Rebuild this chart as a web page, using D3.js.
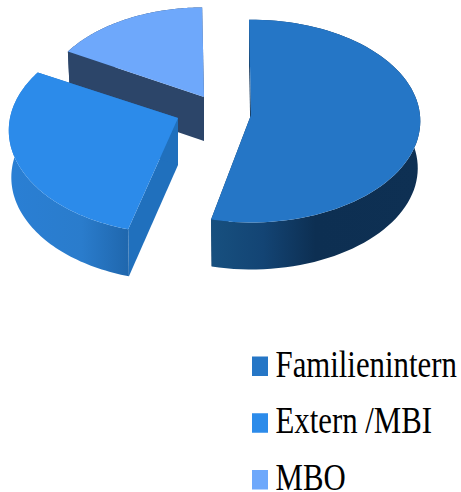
<!DOCTYPE html>
<html>
<head>
<meta charset="utf-8">
<script src="https://cdn.jsdelivr.net/npm/d3@7"></script>
<style>
  html, body { margin: 0; padding: 0; background: #fff; }
  svg { display: block; }
</style>
</head>
<body>
<div id="chart"></div>
<script>
const categories = ["Familienintern", "Extern /MBI", "MBO"];
const shares = [54, 29, 17];

const width = 461, height = 492;
const topColors = ["#2576c6", "#2c8bea", "#6ea8fb"];
const cutColors = ["#0f3358", "#2070bd", "#2c4569"];
// exploded slice centres, radii and extrusion depth per slice
const centers = [[251, 115], [178, 118], [204, 97]];
const radiusX = [169, 168, 161], radiusY = [101, 102, 95];
const depth = [47, 47, 44];
const persp = [0.06, 0.12, 0.06];
// small angle corrections (start, end), the original's 3d projection is not a clean ellipse
const nudge = [[0, -0.015], [0.026, 0], [0.024, 0]];
const drawOrder = [2, 0, 1];

const svg = d3.select("#chart").append("svg")
  .attr("width", width)
  .attr("height", height);

const defs = svg.append("defs");
function sideGradient(id, x1, x2, stops) {
  const g = defs.append("linearGradient")
    .attr("id", id)
    .attr("gradientUnits", "userSpaceOnUse")
    .attr("x1", x1).attr("x2", x2).attr("y1", 0).attr("y2", 0);
  stops.forEach((s) => g.append("stop").attr("offset", s[0]).attr("stop-color", s[1]));
}
sideGradient("side0", 211, 420, [[0, "#17507f"], [0.25, "#134474"], [0.5, "#0d2f52"], [1, "#0e3053"]]);
sideGradient("side1", 9, 130, [[0, "#2a7fd4"], [0.6, "#2a7ccc"], [1, "#1f66ac"]]);
sideGradient("side2", 60, 204, [[0, "#2c4569"], [1, "#2c4569"]]);

const pie = d3.pie().sort(null).value((d) => d)
  .startAngle(-0.012).endAngle(2 * Math.PI - 0.012);
const arcs = pie(shares);

// tilted disc with a little perspective, nearer edge is larger
function project(i, a, dy) {
  const u = Math.sin(a), v = -Math.cos(a), w = 1 / (1 - persp[i] * v);
  const sink = dy ? 0.985 : 1;
  return [centers[i][0] + radiusX[i] * u * w * sink, centers[i][1] + radiusY[i] * v * w + dy];
}
function rim(i, d, dy) {
  const a0 = d.startAngle + nudge[i][0], a1 = d.endAngle + nudge[i][1];
  return d3.range(0, 81).map((t) => project(i, a0 + (a1 - a0) * t / 80, dy));
}
const line = d3.line();

drawOrder.forEach((i) => {
  const d = arcs[i];
  const apex = centers[i];
  const dz = depth[i];
  const g = svg.append("g").attr("class", "slice");
  const upper = rim(i, d, 0);
  const lower = rim(i, d, dz);
  const apexLow = [apex[0], apex[1] + dz];

  // cut walls
  g.append("path")
    .attr("d", line([apex, upper[0], lower[0], apexLow]) + "Z")
    .attr("fill", cutColors[i]);
  g.append("path")
    .attr("d", line([apex, upper[80], lower[80], apexLow]) + "Z")
    .attr("fill", cutColors[i]);
  // outer wall
  g.append("path")
    .attr("d", line(upper.concat(lower.slice().reverse())) + "Z")
    .attr("fill", "url(#side" + i + ")");
  // top face
  g.append("path")
    .attr("d", line([apex].concat(upper)) + "Z")
    .attr("fill", topColors[i]);
});

// legend
const legendY = d3.scalePoint().domain(categories).range([376.5, 490]);
const legend = svg.append("g").attr("class", "legend");
legend.selectAll("rect")
  .data(categories)
  .enter()
  .append("rect")
  .attr("x", 252)
  .attr("y", (d) => legendY(d) - 20)
  .attr("width", 16)
  .attr("height", 19.5)
  .attr("fill", (d, i) => topColors[i]);
legend.selectAll("text")
  .data(categories)
  .enter()
  .append("text")
  .attr("transform", (d) => "translate(275.5," + legendY(d) + ") scale(1,1.24)")
  .attr("font-family", "'Liberation Serif', serif")
  .attr("font-size", 30.8)
  .attr("fill", "#000")
  .text((d) => d);
</script>
</body>
</html>
